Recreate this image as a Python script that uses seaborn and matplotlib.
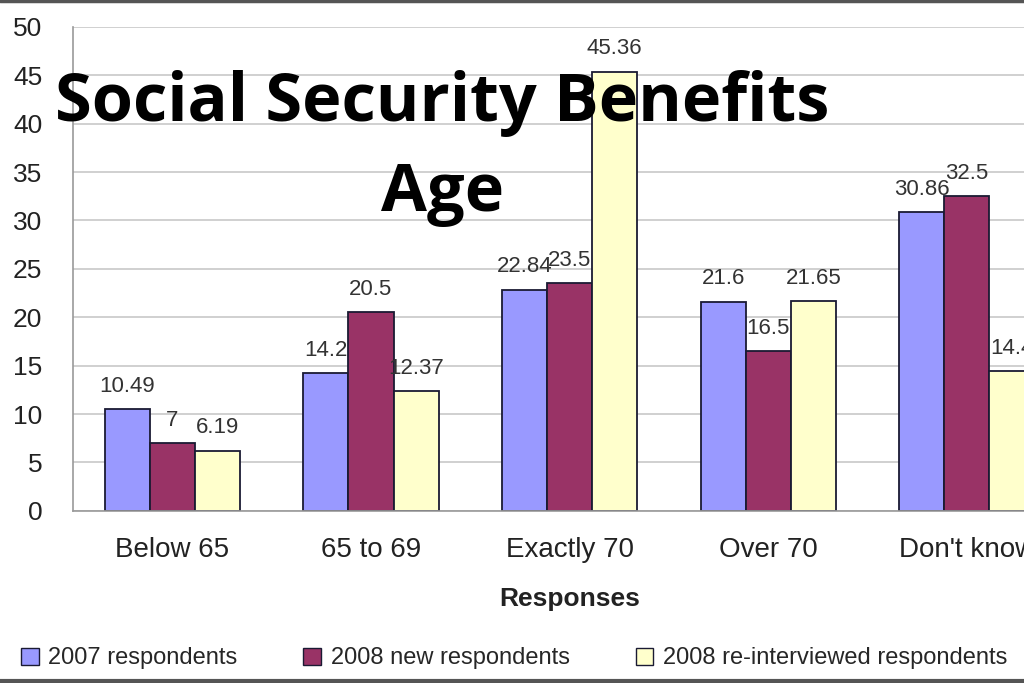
import matplotlib
matplotlib.use("Agg")
import matplotlib.pyplot as plt
from matplotlib.lines import Line2D
import seaborn as sns
import pandas as pd

# chart data
categories = ["Below 65", "65 to 69", "Exactly 70", "Over 70", "Don't know"]
series_names = ["2007 respondents", "2008 new respondents", "2008 re-interviewed respondents"]
resp_2007 = [10.49, 14.2, 22.84, 21.6, 30.86]
resp_2008_new = [7, 20.5, 23.5, 16.5, 32.5]
resp_2008_reint = [6.19, 12.37, 45.36, 21.65, 14.4]
colors = ["#9999FF", "#993366", "#FFFFCC"]
yticks = [0, 5, 10, 15, 20, 25, 30, 35, 40, 45, 50]

df = pd.DataFrame({
    "Responses": categories * 3,
    "series": [s for s in series_names for _ in categories],
    "value": resp_2007 + resp_2008_new + resp_2008_reint,
})

sns.set_style("white")
plt.rcParams["font.family"] = ["Liberation Sans", "DejaVu Sans"]

fig = plt.figure(figsize=(10.24, 6.83), dpi=100)
ax = fig.add_axes([0.0713, 0.252, 0.970, 0.7086])

sns.barplot(data=df, x="Responses", y="value", hue="series", order=categories,
            hue_order=series_names, palette=colors, saturation=1, width=0.68,
            edgecolor="#1a1a33", linewidth=1.3, ax=ax, legend=False, errorbar=None)

for cont in ax.containers:
    ax.bar_label(cont, fmt="%g", padding=9, fontsize=16, color="#333333")

ax.set_xlim(-0.5, 4.5)
ax.set_ylim(0, 50)
ax.set_yticks(yticks)
ax.set_yticklabels([str(t) for t in yticks], fontsize=19, color="#222222")
ax.yaxis.grid(True, color="#c8c8c8", linewidth=1.2)
ax.set_axisbelow(True)
ax.tick_params(axis="y", length=10, color="#999999", width=1.0, pad=12)
ax.tick_params(axis="x", which="major", length=0, labelsize=20, pad=19,
               labelcolor="#222222")
ax.set_xticks([i - 0.5 for i in range(6)], minor=True)
ax.tick_params(axis="x", which="minor", length=8, color="#999999", width=1.0)

for side in ["top", "right"]:
    ax.spines[side].set_visible(False)
for side in ["left", "bottom"]:
    ax.spines[side].set_color("#999999")
    ax.spines[side].set_linewidth(1.2)

ax.set_xlabel("Responses", fontsize=19, fontweight="bold", labelpad=17, color="#222222")
ax.set_ylabel("")

handles = [plt.Rectangle((0, 0), 1, 1, facecolor=c, edgecolor="#1a1a33", linewidth=1.0)
           for c in colors]
fig.legend(handles, series_names, loc="center", bbox_to_anchor=(0.502, 0.036), ncol=3,
           frameon=False, fontsize=17, handlelength=0.75, handleheight=0.75,
           handletextpad=0.4, columnspacing=2.8)

fig.text(0.432, 0.783, "Social Security Benefits\nAge", ha="center", va="center",
         fontsize=48, fontweight="bold", family=["Open Sans", "DejaVu Sans"],
         color="black", linespacing=1.45)

fig.add_artist(Line2D([0, 1], [0.998, 0.998], color="#555555", linewidth=2.5))
fig.add_artist(Line2D([0, 1], [0.003, 0.003], color="#555555", linewidth=3))

fig.savefig("out.png", dpi=100)
